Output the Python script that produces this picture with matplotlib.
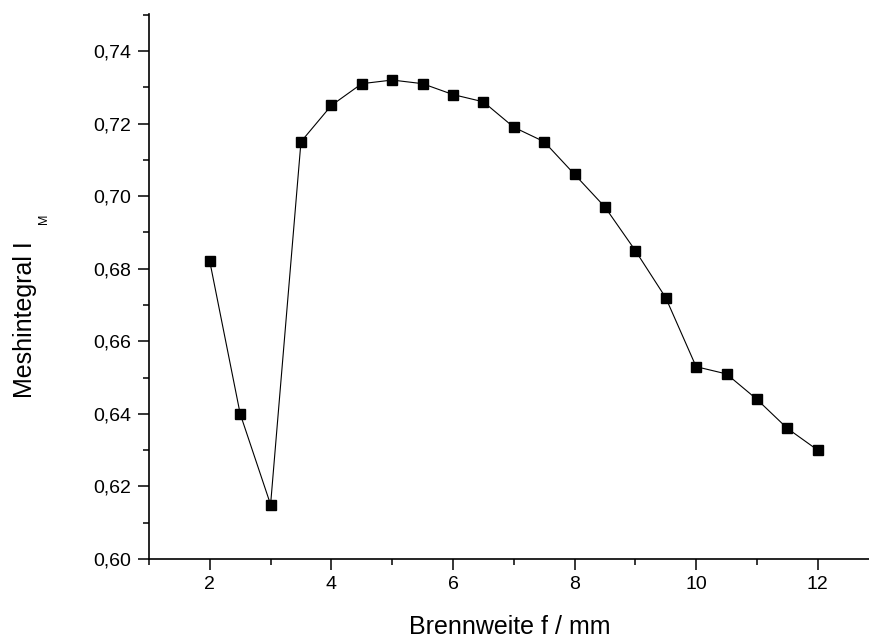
import matplotlib
matplotlib.use("Agg")
import matplotlib.pyplot as plt
from matplotlib.ticker import MultipleLocator, FuncFormatter

# Brennweite f / mm and Meshintegral I_M
brennweite = [2, 2.5, 3, 3.5, 4, 4.5, 5, 5.5, 6, 6.5, 7, 7.5, 8, 8.5, 9, 9.5, 10, 10.5, 11, 11.5, 12]
meshintegral = [0.682, 0.640, 0.615, 0.715, 0.725, 0.731, 0.732, 0.731, 0.728, 0.726, 0.719,
                0.715, 0.706, 0.697, 0.685, 0.672, 0.653, 0.651, 0.644, 0.636, 0.630]

plt.rcParams['font.family'] = ['Liberation Sans', 'DejaVu Sans']

fig = plt.figure(figsize=(8.7, 6.39), dpi=100)
ax = fig.add_axes([149 / 870, 1 - 559 / 639, 721 / 870, 545 / 639])

ax.plot(brennweite, meshintegral, color='black', linewidth=0.8,
        marker='s', markersize=7, markerfacecolor='black', markeredgecolor='black')

ax.set_xlim(1.0, 12.86)
ax.set_ylim(0.60, 0.7502)

ax.xaxis.set_major_locator(MultipleLocator(2))
ax.xaxis.set_minor_locator(MultipleLocator(1))
ax.yaxis.set_major_locator(MultipleLocator(0.02))
ax.yaxis.set_minor_locator(MultipleLocator(0.01))
ax.yaxis.set_major_formatter(FuncFormatter(lambda v, p: ('%.2f' % v).replace('.', ',')))

for s in ['top', 'right']:
    ax.spines[s].set_visible(False)
for s in ['left', 'bottom']:
    ax.spines[s].set_linewidth(1.2)

ax.tick_params(which='major', direction='out', length=8, width=1.1, labelsize=14)
ax.tick_params(which='minor', direction='out', length=4.5, width=1.1)
ax.tick_params(axis='x', which='major', pad=4)
ax.tick_params(axis='y', which='major', pad=5)

ax.set_xlabel('Brennweite f / mm', fontsize=18)
ax.xaxis.set_label_coords(0.5, -0.102)
ax.set_ylabel('Meshintegral I', fontsize=18)
ax.yaxis.set_label_coords(-0.156, 0.440)
# kleiner Index "M" wie im Original
ax.text(-0.145, 0.625, 'M', transform=ax.transAxes, rotation=90, fontsize=9,
        ha='center', va='center')

fig.savefig('out.png', dpi=100)
